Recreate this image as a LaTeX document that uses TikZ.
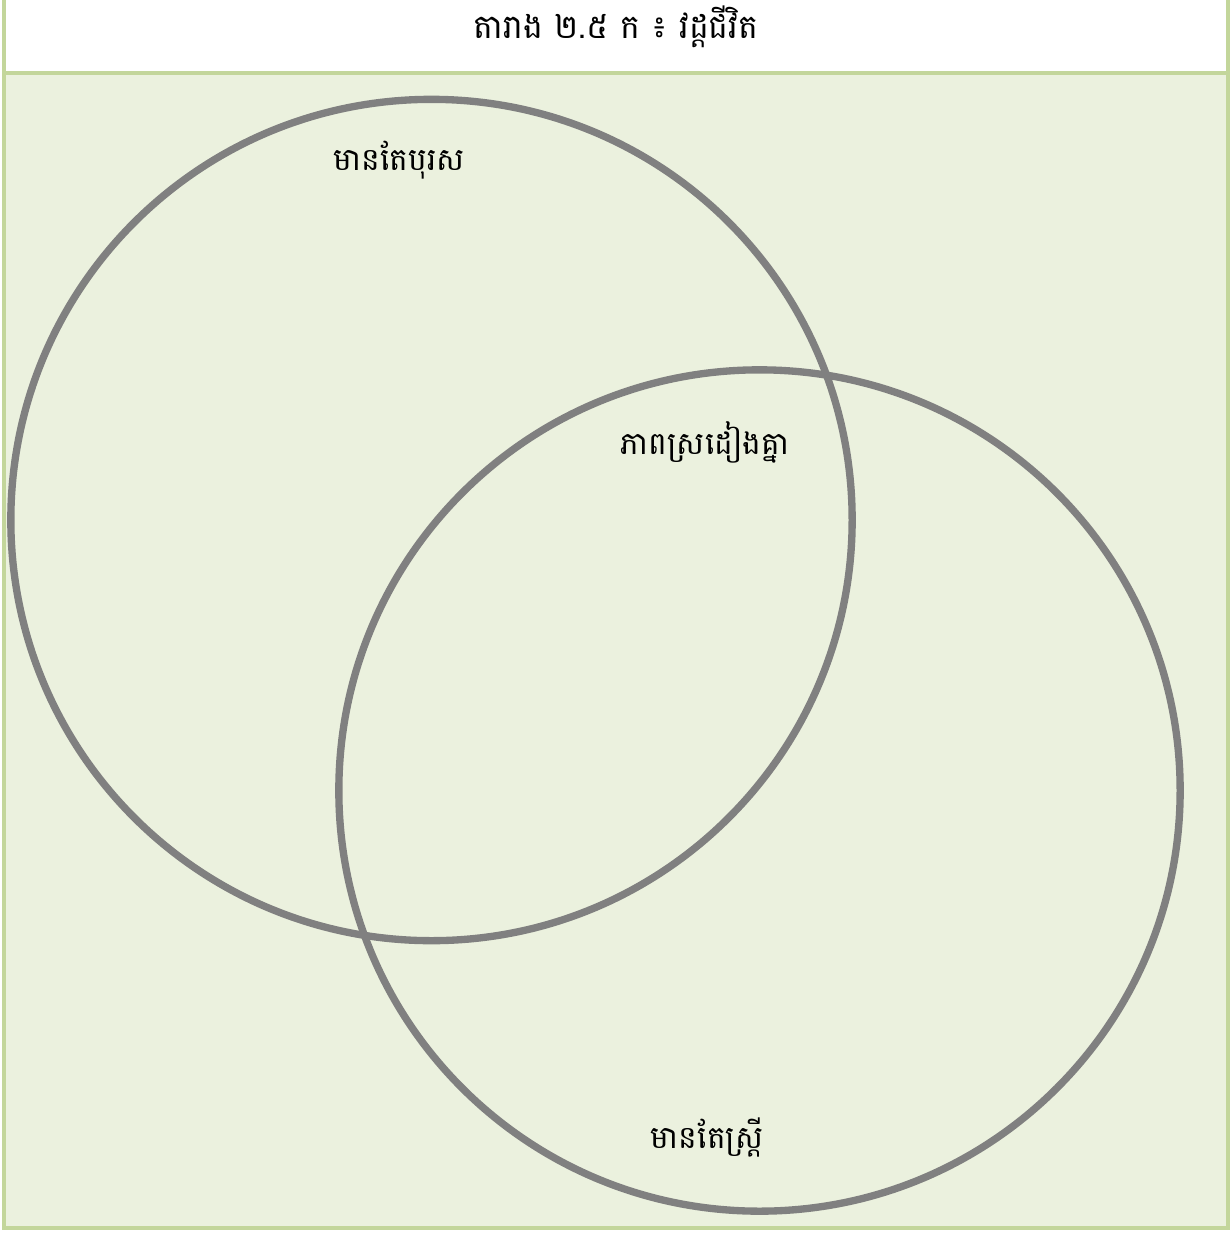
\documentclass[tikz,border=0pt]{standalone}
\usepackage{fontspec}
\newfontfamily\khmerfont[Script=Khmer]{Battambang}
\definecolor{frameline}{HTML}{C3D69B}
\definecolor{framefill}{HTML}{EBF1DE}
\definecolor{ringgray}{HTML}{808080}

\begin{document}
\begin{tikzpicture}[x=0.75pt, y=-0.75pt]
    % Define styles
    \tikzstyle{ring} = [circle, draw=ringgray, line width=5.5pt, minimum size=631pt, inner sep=0pt]
    \tikzstyle{label} = [font=\khmerfont\fontsize{23.5}{26}\selectfont, text=black, inner sep=0pt]
    \tikzstyle{heading} = [font=\khmerfont\fontsize{25}{28}\selectfont, text=black, inner sep=0pt]
    \tikzstyle{border} = [draw=frameline, line width=3.5pt]

    % Frame
    \useasboundingbox (0,0) rectangle (1231,1236);
    \fill[white] (0,0) rectangle (1231,1236);
    \fill[framefill] (4,73) rectangle (1228,1228);
    \draw[border] (4,0) -- (4,1228) -- (1228,1228) -- (1228,0);
    \draw[border] (4,73) -- (1228,73);

    % Nodes
    \node [heading] (title) at (616,27) {តារាង ២.៥ ក ៖ វដ្តជីវិត};
    \node [ring] (men) at (431.5,520) {};
    \node [ring] (women) at (759.5,790.5) {};
    \node [label] (menonly) at (399,160) {មានតែបុរស};
    \node [label] (both) at (705,442) {ភាពស្រដៀងគ្នា};
    \node [label] (womenonly) at (707,1137) {មានតែស្ត្រី};
\end{tikzpicture}
\end{document}
